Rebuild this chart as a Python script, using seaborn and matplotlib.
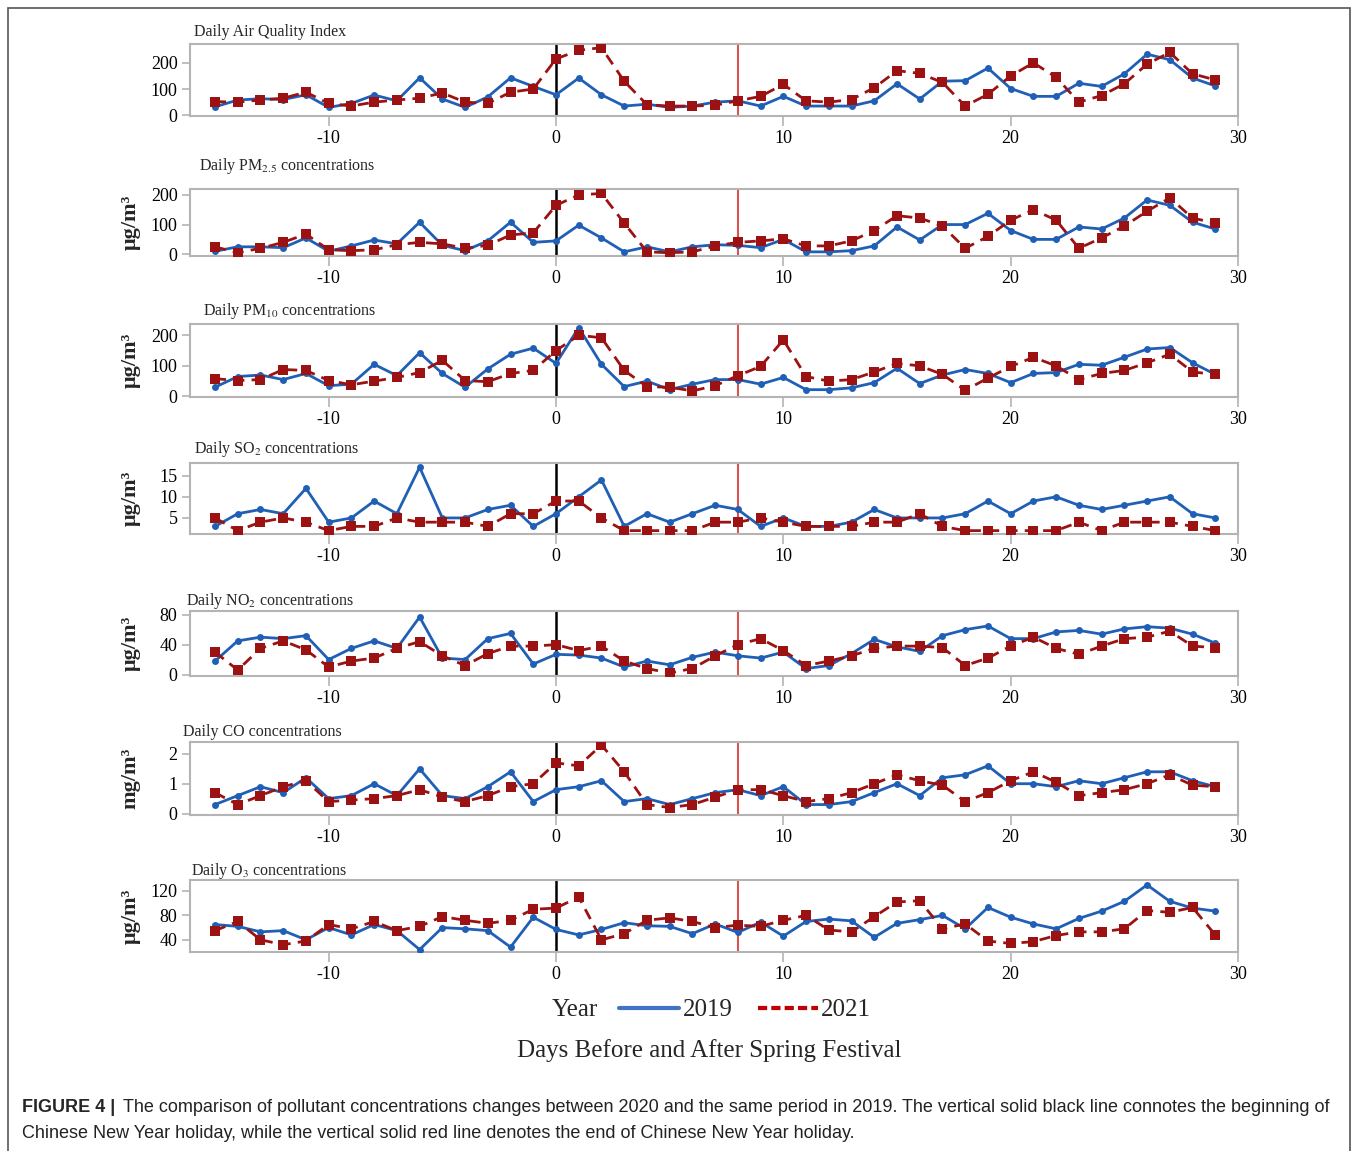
import numpy as np
import pandas as pd
import seaborn as sns
import matplotlib
matplotlib.use("Agg")
import matplotlib.pyplot as plt
from matplotlib.lines import Line2D
from matplotlib.patches import Rectangle

sns.set_theme(style="white")
plt.rcParams["font.family"] = ["Liberation Serif", "DejaVu Serif"]
plt.rcParams["mathtext.fontset"] = "stix"
plt.rcParams["axes.unicode_minus"] = False

days = list(range(-15, 30))

aqi_2019 = [32, 58, 63, 60, 78, 30, 45, 77, 55, 143, 62, 30, 70, 143, 110, 78, 142, 78, 35, 42,
            30, 35, 50, 55, 35, 72, 35, 35, 35, 55, 120, 62, 130, 132, 180, 102, 72, 72, 122, 110,
            158, 233, 212, 142, 112]
aqi_2021 = [52, 50, 58, 65, 88, 45, 35, 50, 58, 65, 85, 50, 45, 88, 100, 215, 248, 258, 130, 40,
            35, 35, 38, 55, 72, 118, 55, 50, 60, 105, 170, 160, 125, 35, 80, 150, 200, 145, 50, 75,
            120, 195, 240, 158, 135]

pm25_2019 = [10, 25, 25, 22, 55, 10, 28, 48, 35, 108, 30, 12, 45, 108, 40, 45, 98, 55, 8, 25,
             8, 25, 32, 30, 22, 50, 8, 8, 12, 28, 92, 48, 100, 100, 138, 80, 50, 50, 92, 85,
             122, 183, 165, 108, 85]
pm25_2021 = [25, 5, 20, 40, 68, 15, 12, 15, 32, 40, 35, 20, 30, 65, 72, 165, 200, 205, 105, 8,
             5, 8, 28, 40, 45, 52, 28, 28, 45, 80, 130, 122, 95, 20, 60, 115, 150, 115, 20, 55,
             95, 145, 190, 122, 105]

pm10_2019 = [30, 65, 70, 55, 75, 35, 40, 105, 68, 143, 75, 30, 90, 138, 158, 108, 225, 105, 32, 50,
             22, 40, 55, 55, 40, 62, 22, 22, 28, 45, 92, 42, 70, 88, 75, 45, 75, 78, 105, 102,
             128, 155, 160, 110, 72]
pm10_2021 = [58, 52, 55, 88, 85, 52, 38, 50, 62, 78, 118, 52, 48, 75, 85, 150, 200, 192, 85, 32,
             30, 18, 35, 68, 98, 185, 65, 50, 55, 80, 108, 100, 72, 20, 60, 98, 128, 100, 55, 75,
             85, 110, 138, 80, 72]

so2_2019 = [3, 6, 7, 6, 12, 4, 5, 9, 6, 17, 5, 5, 7, 8, 3, 6, 10, 14, 3, 6,
            4, 6, 8, 7, 3, 5, 3, 3, 4, 7, 5, 5, 5, 6, 9, 6, 9, 10, 8, 7,
            8, 9, 10, 6, 5]
so2_2021 = [5, 2, 4, 5, 4, 2, 3, 3, 5, 4, 4, 4, 3, 6, 6, 9, 9, 5, 2, 2,
            2, 2, 4, 4, 5, 4, 3, 3, 3, 4, 4, 6, 3, 2, 2, 2, 2, 2, 4, 2,
            4, 4, 4, 3, 2]

no2_2019 = [18, 45, 50, 48, 52, 20, 35, 45, 35, 77, 22, 20, 48, 55, 14, 27, 26, 22, 10, 18,
            13, 23, 30, 25, 22, 30, 8, 12, 28, 47, 37, 31, 52, 60, 65, 48, 48, 57, 59, 54,
            61, 64, 62, 54, 42]
no2_2021 = [30, 6, 35, 45, 33, 10, 18, 22, 35, 44, 25, 12, 28, 38, 38, 40, 32, 38, 18, 8,
            2, 8, 25, 40, 48, 32, 12, 18, 25, 35, 38, 38, 36, 12, 22, 38, 50, 35, 27, 38,
            48, 50, 58, 38, 36]

co_2019 = [0.3, 0.6, 0.9, 0.7, 1.2, 0.5, 0.6, 1.0, 0.6, 1.5, 0.6, 0.5, 0.9, 1.4, 0.4, 0.8, 0.9, 1.1, 0.4, 0.5,
           0.3, 0.5, 0.7, 0.8, 0.6, 0.9, 0.3, 0.3, 0.4, 0.7, 1.0, 0.6, 1.2, 1.3, 1.6, 1.0, 1.0, 0.9, 1.1, 1.0,
           1.2, 1.4, 1.4, 1.1, 0.9]
co_2021 = [0.7, 0.3, 0.6, 0.9, 1.1, 0.4, 0.45, 0.5, 0.6, 0.8, 0.55, 0.4, 0.6, 0.9, 1.0, 1.7, 1.6, 2.3, 1.4, 0.3,
           0.2, 0.3, 0.55, 0.8, 0.8, 0.6, 0.4, 0.5, 0.7, 1.0, 1.3, 1.1, 0.95, 0.4, 0.7, 1.1, 1.4, 1.05, 0.6, 0.7,
           0.8, 1.0, 1.3, 0.95, 0.9]

o3_2019 = [65, 62, 53, 55, 40, 60, 48, 65, 55, 24, 60, 58, 55, 28, 77, 57, 48, 57, 68, 63,
           62, 50, 66, 52, 69, 46, 70, 74, 71, 44, 67, 73, 80, 58, 93, 77, 66, 58, 75, 87,
           103, 130, 103, 92, 87]
o3_2021 = [55, 70, 40, 32, 38, 65, 58, 70, 55, 62, 78, 72, 67, 72, 90, 92, 110, 40, 50, 72,
           76, 70, 60, 64, 62, 72, 80, 56, 53, 78, 102, 104, 58, 66, 38, 34, 37, 47, 53, 53,
           58, 88, 85, 93, 48]

titles = ["Daily Air Quality Index",
          "Daily PM$_{2.5}$ concentrations",
          "Daily PM$_{10}$ concentrations",
          "Daily SO$_{2}$ concentrations",
          "Daily NO$_{2}$ concentrations",
          "Daily CO concentrations",
          "Daily O$_{3}$ concentrations"]
ylabels = ["", "μg/m³", "μg/m³", "μg/m³", "μg/m³", "mg/m³", "μg/m³"]
series_2019 = [aqi_2019, pm25_2019, pm10_2019, so2_2019, no2_2019, co_2019, o3_2019]
series_2021 = [aqi_2021, pm25_2021, pm10_2021, so2_2021, no2_2021, co_2021, o3_2021]
yticks = [[0, 100, 200], [0, 100, 200], [0, 100, 200], [5, 10, 15], [0, 40, 80], [0, 1, 2], [40, 80, 120]]
ylims = [(-3, 272), (-6, 220), (-2, 237), (1.2, 18), (-2, 85), (-0.05, 2.4), (20, 138)]
xticks = [-10, 0, 10, 20, 30]
holiday_start = 0
holiday_end = 8
years = ["2019", "2021"]

# layout (pixels)
W, H = 1358, 1151
box_tops = [44, 189, 324, 463, 611, 742, 880]
box_bots = [116, 256, 397, 534, 676, 815, 952]
title_pos = [(194, 32), (199, 166), (203, 311), (194, 449), (186, 601), (183, 732), (191, 871)]
left_px, right_px = 190, 1238

BLUE = "#1f5fb5"
RED = "#9c1212"
GRAY = "#b4b4b4"

fig = plt.figure(figsize=(W / 100, H / 100), dpi=100)

for i in range(7):
    ax = fig.add_axes([left_px / W, 1 - box_bots[i] / H, (right_px - left_px) / W,
                       (box_bots[i] - box_tops[i]) / H])
    df = pd.DataFrame({"day": days * 2,
                       "value": list(series_2019[i]) + list(series_2021[i]),
                       "Year": ["2019"] * len(days) + ["2021"] * len(days)})
    sns.lineplot(data=df[df.Year == "2019"], x="day", y="value", color=BLUE, marker="o",
                 markersize=5, markeredgewidth=0, linewidth=2.0, ax=ax, legend=False, zorder=3)
    sns.lineplot(data=df[df.Year == "2021"], x="day", y="value", color=RED, marker="s",
                 markersize=6.5, markeredgewidth=0, linewidth=2.0, linestyle=(0, (4, 2.6)),
                 ax=ax, legend=False, zorder=4)
    ax.axvline(holiday_start, color="black", lw=1.8, zorder=2)
    ax.axvline(holiday_end, color="#d9534f", lw=1.5, zorder=2)
    ax.set_xlim(-16.1, 30)
    ax.set_ylim(*ylims[i])
    ax.set_xticks(xticks)
    ax.set_yticks(yticks[i])
    ax.set_xlabel("")
    ax.set_ylabel(ylabels[i], fontsize=16, fontweight="bold")
    ax.yaxis.set_label_coords(-0.047, 0.5)
    for s in ax.spines.values():
        s.set_color(GRAY)
        s.set_linewidth(1.5)
    ax.tick_params(axis="both", which="both", direction="out", length=5, width=1.2,
                   color=GRAY, labelsize=13, labelcolor="black", pad=3)
    ax.tick_params(axis="x", pad=3, length=7)
    ax.tick_params(axis="y", left=True, length=6)
    ax.tick_params(axis="x", bottom=True)
    fig.text(title_pos[i][0] / W, 1 - title_pos[i][1] / H, titles[i], fontsize=11.5,
             ha="left", va="center")

# legend row
fig.text(575 / W, 1 - 1010 / H, "Year", fontsize=18, ha="center", va="center")
handles = [Line2D([], [], color="#4472c4", lw=3),
           Line2D([], [], color="#c00000", lw=3, linestyle=(0, (2.2, 1.0)))]
fig.legend(handles, years, loc="center left", bbox_to_anchor=(619 / W, 1 - 1010 / H),
           ncol=2, frameon=False, fontsize=18, handlelength=2.4, handletextpad=0.15,
           columnspacing=1.0, borderpad=0, borderaxespad=0)
fig.text(709 / W, 1 - 1051 / H, "Days Before and After Spring Festival", fontsize=18,
         ha="center", va="center")

# caption
cap_font = ["Liberation Sans", "DejaVu Sans"]
fig.text(22 / W, 1 - 1108 / H, "FIGURE 4 |", fontsize=13, fontweight="bold",
         family=cap_font, ha="left", va="center")
fig.text(123 / W, 1 - 1108 / H,
         "The comparison of pollutant concentrations changes between 2020 and the same period in 2019. "
         "The vertical solid black line connotes the beginning of",
         fontsize=13, family=cap_font, ha="left", va="center", color="#222222")
fig.text(22 / W, 1 - 1133 / H,
         "Chinese New Year holiday, while the vertical solid red line denotes the end of Chinese New Year holiday.",
         fontsize=13, family=cap_font, ha="left", va="center", color="#222222")

# outer frame
fig.patches.append(Rectangle((8 / W, -0.01), (1350 - 8) / W, 1 - 8 / H + 0.01,
                             transform=fig.transFigure, fill=False, edgecolor="#555555", lw=1.2))

fig.savefig("out.png", dpi=100)
